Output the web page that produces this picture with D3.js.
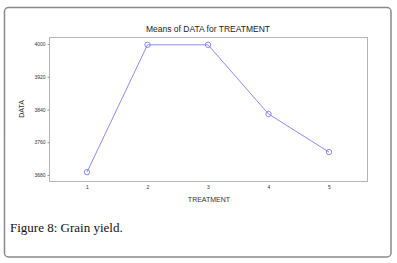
<!DOCTYPE html>
<html>
<head>
<meta charset="utf-8">
<script src="https://cdn.jsdelivr.net/npm/d3@7"></script>
<style>
  body { margin: 0; background: #fff; }
  svg { display: block; }
</style>
</head>
<body>
<div class="chart"></div>
<script>
const treatments = [1, 2, 3, 4, 5]
const means = [3687, 3998, 3998, 3829, 3736]
const yTicks = [3680, 3760, 3840, 3920, 4000]

const W = 397, H = 263
const frame = { left: 49, top: 37, right: 367, bottom: 181 }

const svg = d3.select('.chart')
    .append('svg')
    .attr('width', W)
    .attr('height', H)

// outer panel
svg.append('rect')
    .attr('x', 4.5).attr('y', 7.5)
    .attr('width', 386.5).attr('height', 249.5)
    .attr('rx', 4)
    .attr('fill', '#fff')
    .attr('stroke', '#8a8a8a')
    .attr('stroke-width', 1.5)

const xScale = d3.scaleLinear()
    .domain([1, 5])
    .range([87, 329])
const yScale = d3.scaleLinear()
    .domain([3680, 4000])
    .range([175, 44])

// plot frame
svg.append('rect')
    .attr('x', frame.left + 0.5).attr('y', frame.top + 0.5)
    .attr('width', frame.right - frame.left)
    .attr('height', frame.bottom - frame.top)
    .attr('fill', 'none')
    .attr('stroke', '#b4b4b4')
    .attr('stroke-width', 1)

const yAxis = svg.append('g')
    .attr('transform', `translate(${frame.left + 0.5}, 0)`)
    .call(d3.axisLeft(yScale).tickValues(yTicks).tickFormat(d3.format('d')).tickSize(2).tickPadding(2))
yAxis.select('.domain').remove()
yAxis.selectAll('line').attr('stroke', '#999')
yAxis.selectAll('text')
    .attr('fill', '#333')
    .style('font', '5px Arial, "Liberation Sans", sans-serif')

const xAxis = svg.append('g')
    .attr('transform', `translate(0, ${frame.bottom + 0.5})`)
    .call(d3.axisBottom(xScale).tickValues(treatments).tickFormat(d3.format('d')).tickSize(0).tickPadding(4))
xAxis.select('.domain').remove()
xAxis.selectAll('text')
    .attr('fill', '#333')
    .style('font', '5px Arial, "Liberation Sans", sans-serif')

const line = d3.line()
    .x((d, i) => xScale(treatments[i]))
    .y(d => yScale(d))

svg.append('path')
    .datum(means)
    .attr('d', line)
    .attr('fill', 'none')
    .attr('stroke', '#8c8cf5')
    .attr('stroke-width', 1)

svg.selectAll('.pt')
    .data(means)
    .enter()
    .append('circle')
    .attr('class', 'pt')
    .attr('cx', (d, i) => xScale(treatments[i]))
    .attr('cy', d => yScale(d))
    .attr('r', 2.7)
    .attr('fill', 'none')
    .attr('stroke', '#7d7df2')
    .attr('stroke-width', 0.9)

svg.append('text')
    .attr('x', 208).attr('y', 32)
    .attr('text-anchor', 'middle')
    .attr('fill', '#222')
    .style('font', '8.5px Arial, "Liberation Sans", sans-serif')
    .text('Means of DATA for TREATMENT')

svg.append('text')
    .attr('transform', 'translate(24, 109) rotate(-90)')
    .attr('text-anchor', 'middle')
    .attr('fill', '#333')
    .style('font', '7px Arial, "Liberation Sans", sans-serif')
    .text('DATA')

svg.append('text')
    .attr('x', 209).attr('y', 202)
    .attr('text-anchor', 'middle')
    .attr('fill', '#333')
    .style('font', '7px Arial, "Liberation Sans", sans-serif')
    .text('TREATMENT')

svg.append('text')
    .attr('x', 10).attr('y', 232)
    .attr('fill', '#111')
    .style('font', '13px "Liberation Serif", "DejaVu Serif", serif')
    .text('Figure 8: Grain yield.')
</script>
</body>
</html>
